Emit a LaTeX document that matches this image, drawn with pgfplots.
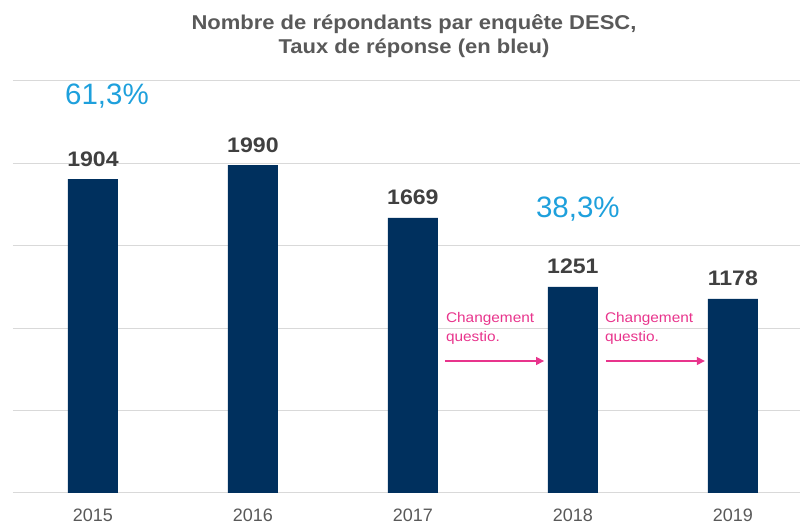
\documentclass[border=0pt]{standalone}
\usepackage{pgfplots}
\pgfplotsset{compat=1.18}
\usepackage{fontspec}
\setmainfont{Liberation Sans}
\usetikzlibrary{arrows.meta}

\definecolor{barblue}{RGB}{0,48,94}
\definecolor{rateblue}{RGB}{30,160,220}
\definecolor{pinkish}{RGB}{232,52,140}
\definecolor{titlegray}{RGB}{89,89,89}
\definecolor{valgray}{RGB}{64,64,64}
\definecolor{gridgray}{RGB}{217,217,217}

% the reference text is a little wide
\newcommand{\wide}[1]{\scalebox{1.1}[1]{#1}}

\begin{document}
\begin{tikzpicture}[x=1pt,y=1pt]
\path[use as bounding box] (0,0) rectangle (800,527);

% title
\node[anchor=base,text=titlegray,font=\fontsize{20}{24}\selectfont\bfseries] at (414,497) {\wide{Nombre de répondants par enquête DESC,}};
\node[anchor=base,text=titlegray,font=\fontsize{20}{24}\selectfont\bfseries] at (414,473) {\wide{Taux de réponse (en bleu)}};

\begin{axis}[
  at={(13pt,34pt)},anchor=south west,
  scale only axis,width=787pt,height=412pt,
  xmin=-0.5,xmax=4.42,ymin=0,ymax=2500,
  ybar,bar width=50pt,
  axis line style={draw=none},
  major tick length=0pt,
  ytick={0,500,1000,1500,2000,2500},yticklabels={},
  ymajorgrids=true,grid style={gridgray,line width=1pt},
  xtick={0,1,2,3,4},xticklabels={2015,2016,2017,2018,2019},
  xticklabel style={anchor=base,yshift=-29pt,text=titlegray,font=\fontsize{18}{21}\selectfont},
  /pgf/number format/assume math mode=true,
  /pgf/number format/1000 sep={},
  nodes near coords={\wide{\pgfmathprintnumber{\pgfplotspointmeta}}},
  every node near coord/.append style={anchor=base,yshift=13pt,text=valgray,font=\fontsize{21}{25}\selectfont\bfseries},
  clip=false,
]
\addplot[fill=barblue,draw=none] coordinates {(0,1904)(1,1990)(2,1669)(3,1251)(4,1178)};

% response rates
\node[anchor=base,text=rateblue,font=\fontsize{29.5}{34}\selectfont] at (axis cs:0.0875,2360) {61,3\%};
\node[anchor=base,text=rateblue,font=\fontsize{29.5}{34}\selectfont] at (axis cs:3.031,1669) {38,3\%};

% annotations
\node[anchor=base west,inner sep=0pt,text=pinkish,font=\fontsize{14}{17}\selectfont] at (axis cs:2.206,1032) {\wide{Changement}};
\node[anchor=base west,inner sep=0pt,text=pinkish,font=\fontsize{14}{17}\selectfont] at (axis cs:2.206,922) {\wide{questio.}};
\draw[pinkish,line width=1.3pt,-{Triangle[length=8pt,width=8pt]}] (axis cs:2.2,801) -- (axis cs:2.82,801);
\node[anchor=base west,inner sep=0pt,text=pinkish,font=\fontsize{14}{17}\selectfont] at (axis cs:3.2,1032) {\wide{Changement}};
\node[anchor=base west,inner sep=0pt,text=pinkish,font=\fontsize{14}{17}\selectfont] at (axis cs:3.2,922) {\wide{questio.}};
\draw[pinkish,line width=1.3pt,-{Triangle[length=8pt,width=8pt]}] (axis cs:3.206,801) -- (axis cs:3.825,801);
\end{axis}
\end{tikzpicture}
\end{document}
